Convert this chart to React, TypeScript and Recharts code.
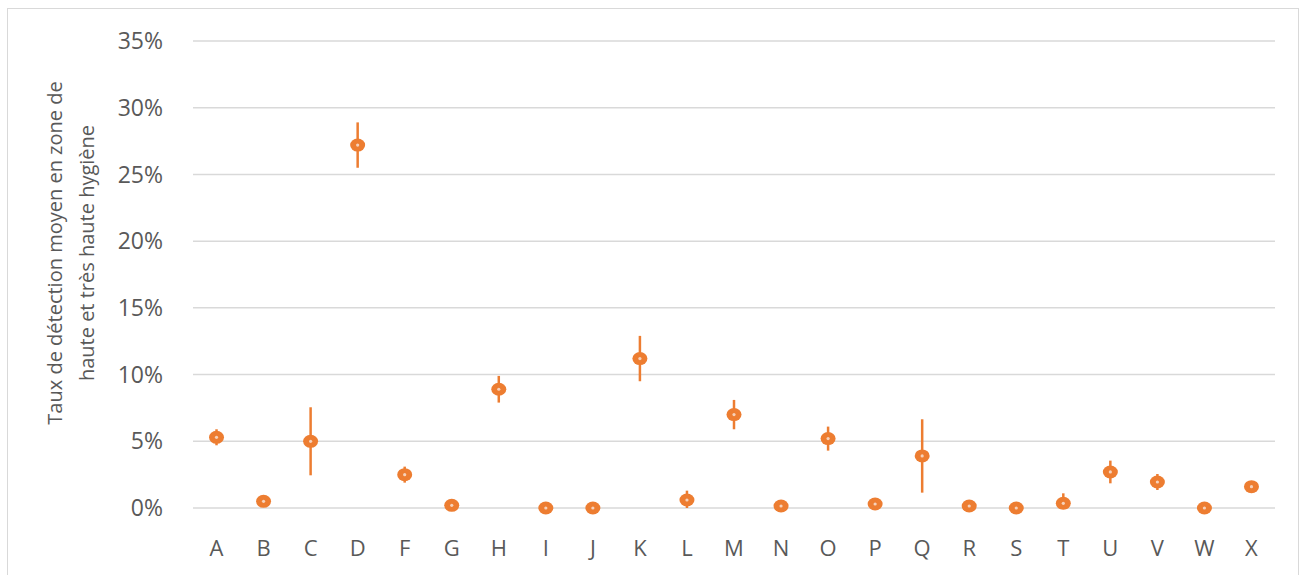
import React from 'react';
import { ComposedChart, Line, XAxis, YAxis, CartesianGrid, ErrorBar } from 'recharts';

const categories = ['A', 'B', 'C', 'D', 'F', 'G', 'H', 'I', 'J', 'K', 'L', 'M', 'N', 'O', 'P', 'Q', 'R', 'S', 'T', 'U', 'V', 'W', 'X'];
const means = [0.053, 0.005, 0.05, 0.272, 0.025, 0.002, 0.089, 0, 0, 0.112, 0.006, 0.07, 0.0015, 0.052, 0.003, 0.039, 0.0015, 0, 0.0035, 0.027, 0.0195, 0, 0.016];
const errorsUp = [0.006, 0, 0.0255, 0.017, 0.006, 0, 0.01, 0, 0, 0.017, 0.007, 0.011, 0, 0.009, 0, 0.0275, 0, 0, 0.0075, 0.0085, 0.006, 0, 0];
const errorsDown = [0.006, 0, 0.0255, 0.017, 0.006, 0, 0.01, 0, 0, 0.017, 0.006, 0.011, 0, 0.009, 0, 0.0275, 0, 0, 0.0035, 0.0085, 0.006, 0, 0];
const yTicks = [0, 0.05, 0.1, 0.15, 0.2, 0.25, 0.3, 0.35];

const data = categories.map((c, i) => ({ name: c, value: means[i], err: [errorsDown[i], errorsUp[i]] }));

const ORANGE = '#ED7D31';
const TEXT = '#595959';
const FONT = '"Open Sans", Lato, sans-serif';

const Dot = (props: any) => {
  const { cx, cy } = props;
  if (cx == null || cy == null) return null;
  return (
    <g>
      <ellipse cx={cx} cy={cy} rx={7.5} ry={6.5} fill={ORANGE} />
      <circle cx={cx} cy={cy} r={1.6} fill="#f6d2bb" />
    </g>
  );
};

const AxisTitle = () => {
  const cx = 71;
  const cy = 253;
  return (
    <text
      transform={`rotate(-90, ${cx}, ${cy})`}
      x={cx}
      y={cy}
      textAnchor="middle"
      fill={TEXT}
      fontSize={20}
      fontFamily={FONT}
    >
      <tspan x={cx} dy={-9}>Taux de détection moyen en zone de</tspan>
      <tspan x={cx} dy={32}>haute et très haute hygiène</tspan>
    </text>
  );
};

export default function App() {
  return (
    <div style={{ position: 'absolute', left: 0, top: 0, width: 1305, height: 575, background: '#fff', overflow: 'hidden' }}>
      <div style={{ position: 'absolute', left: 7, top: 8, width: 1290, height: 600, border: '1px solid #d9d9d9' }} />
      <ComposedChart
        width={1305}
        height={575}
        data={data}
        margin={{ top: 41, right: 30, bottom: 0, left: 0 }}
        style={{ position: 'absolute', left: 0, top: 0 }}
      >
        <CartesianGrid vertical={false} stroke="#d9d9d9" strokeWidth={1.5} />
        <XAxis
          dataKey="name"
          scale="band"
          axisLine={false}
          tickLine={false}
          height={67}
          tickMargin={26}
          tick={{ fill: TEXT, fontSize: 22, fontFamily: FONT }}
          interval={0}
        />
        <YAxis
          width={193}
          domain={[0, 0.35]}
          ticks={yTicks}
          axisLine={false}
          tickLine={false}
          tickMargin={24}
          tickFormatter={(v: number) => `${Math.round(v * 100)}%`}
          tick={{ fill: TEXT, fontSize: 23, fontFamily: FONT }}
          label={<AxisTitle />}
        />
        <Line
          dataKey="value"
          stroke="none"
          isAnimationActive={false}
          dot={<Dot />}
          activeDot={false}
        >
          <ErrorBar dataKey="err" direction="y" width={0} stroke={ORANGE} strokeWidth={2.5} />
        </Line>
      </ComposedChart>
    </div>
  );
}
